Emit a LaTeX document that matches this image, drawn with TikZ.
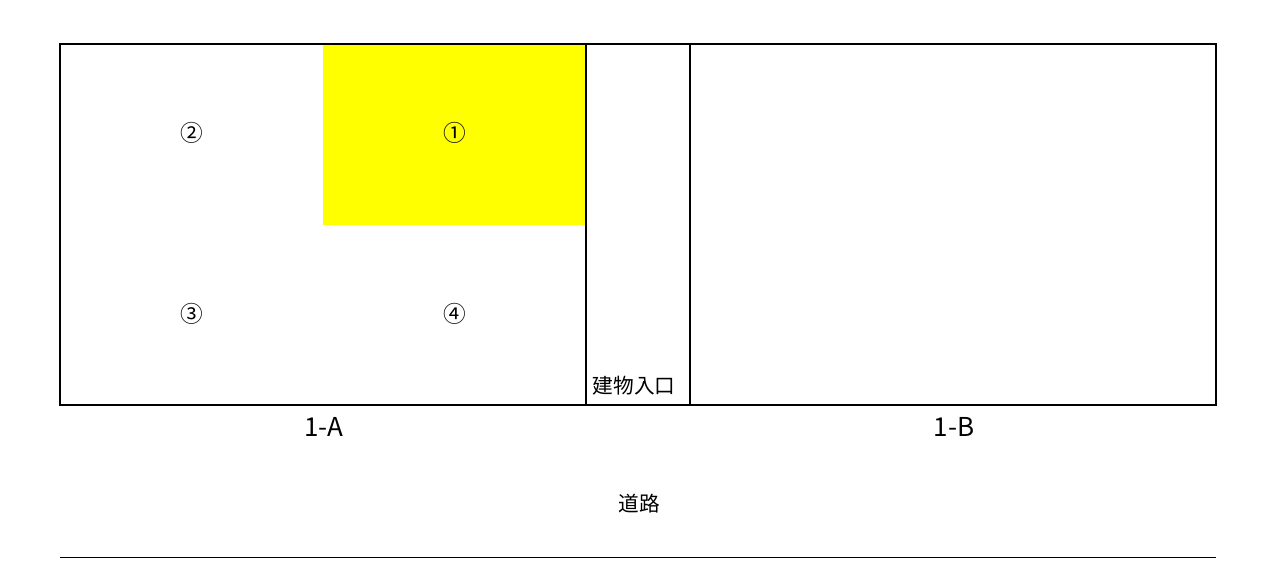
\documentclass[tikz,border=0pt]{standalone}
\usepackage{fontspec}
\setmainfont{Noto Sans CJK JP}
\definecolor{pureyellow}{RGB}{255,255,0}
\begin{document}
\begin{tikzpicture}[x=0.75pt,y=-0.75pt,
  frame/.style={draw=black,line width=1.5pt},
  lbl/.style={inner sep=0pt,font=\fontsize{15.5}{18}\selectfont},
  numlbl/.style={inner sep=0pt,font=\fontsize{17}{20}\selectfont},
  biglbl/.style={inner sep=0pt,font=\fontsize{19.5}{22}\selectfont}]
\useasboundingbox (0,0) rectangle (1275,580);
\fill[pureyellow] (323,44) rectangle (586,225);
\draw[frame] (60,44) rectangle (1216,405);
\draw[frame] (586,44) -- (586,405);
\draw[frame] (690,44) -- (690,405);
\draw[line width=0.75pt] (60,558) -- (1216,558);
\node[numlbl] (c2) at (192,133) {②};
\node[numlbl] (c1) at (455,133) {①};
\node[numlbl] (c3) at (192,314) {③};
\node[numlbl] (c4) at (455,314) {④};
\node[lbl] (ent) at (634,386) {建物入口};
\node[biglbl] (a) at (324,427) {1-A};
\node[biglbl] (b) at (954,427) {1-B};
\node[lbl] (road) at (639,504) {道路};
\end{tikzpicture}
\end{document}
